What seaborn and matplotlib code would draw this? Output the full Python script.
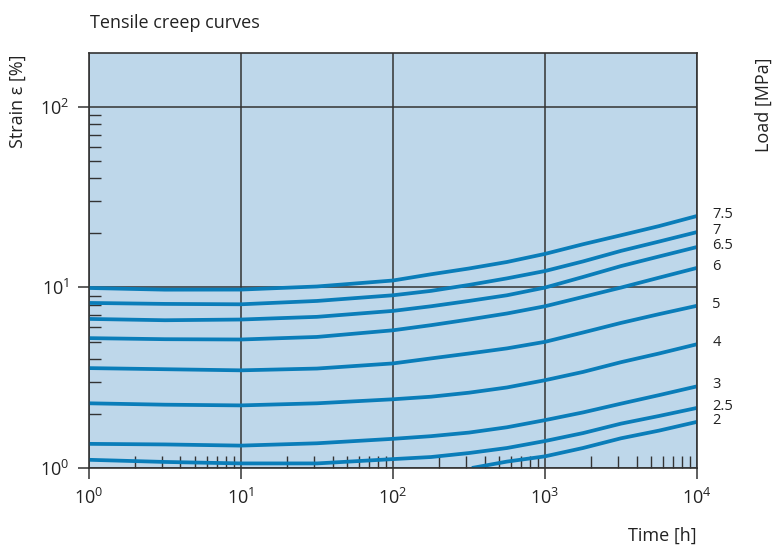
import numpy as np
import pandas as pd
import matplotlib
matplotlib.use("Agg")
import matplotlib.pyplot as plt
import seaborn as sns
from matplotlib.ticker import LogLocator, LogFormatterSciNotation, NullFormatter

# ---- data ----
time_h = [1, 3.16, 10, 31.6, 100, 178, 316, 562, 1000, 1778, 3162, 5623, 10000]
load_labels = ["7.5", "7", "6.5", "6", "5", "4", "3", "2.5", "2"]
strain_7_5 = [9.91, 9.70, 9.71, 10.1, 10.9, 11.8, 12.7, 13.8, 15.3, 17.3, 19.4, 21.8, 24.8]
strain_7 = [8.19, 8.09, 8.05, 8.40, 9.03, 9.55, 10.3, 11.2, 12.3, 13.9, 15.9, 17.9, 20.2]
strain_6_5 = [6.68, 6.57, 6.63, 6.86, 7.40, 7.85, 8.40, 9.03, 9.96, 11.4, 13.1, 14.8, 16.7]
strain_6 = [5.23, 5.16, 5.14, 5.31, 5.78, 6.17, 6.63, 7.16, 7.85, 8.84, 9.96, 11.3, 12.8]
strain_5 = [3.57, 3.52, 3.47, 3.55, 3.79, 4.04, 4.30, 4.59, 4.99, 5.62, 6.35, 7.10, 7.90]
strain_4 = [2.28, 2.24, 2.22, 2.28, 2.40, 2.48, 2.61, 2.79, 3.06, 3.40, 3.85, 4.30, 4.84]
strain_3 = [1.36, 1.35, 1.33, 1.37, 1.45, 1.50, 1.57, 1.68, 1.84, 2.03, 2.27, 2.53, 2.83]
strain_2_5 = [1.11, 1.08, 1.06, 1.06, 1.12, 1.15, 1.21, 1.29, 1.41, 1.56, 1.76, 1.94, 2.15]
time_2 = [330, 562, 1000, 1778, 3162, 5623, 10000]
strain_2 = [1.00, 1.085, 1.16, 1.29, 1.46, 1.61, 1.80]

series = [
    ("7.5", time_h, strain_7_5),
    ("7", time_h, strain_7),
    ("6.5", time_h, strain_6_5),
    ("6", time_h, strain_6),
    ("5", time_h, strain_5),
    ("4", time_h, strain_4),
    ("3", time_h, strain_3),
    ("2.5", time_h, strain_2_5),
    ("2", time_2, strain_2),
]

rows = []
for lab, xs, ys in series:
    for x, y in zip(xs, ys):
        rows.append({"load": lab, "time": x, "strain": y})
df = pd.DataFrame(rows)

# ---- style ----
sns.set_theme(style="ticks")
plt.rcParams["font.family"] = ["Open Sans", "DejaVu Sans"]
plt.rcParams["mathtext.default"] = "regular"

line_color = "#0a7db9"
bg_color = "#bed7ea"
dark = "#333333"

fig = plt.figure(figsize=(7.75, 5.48), dpi=100)
ax = fig.add_axes([0.1148, 0.146, 0.7846, 0.7567])
ax.set_facecolor(bg_color)

sns.lineplot(data=df, x="time", y="strain", units="load", estimator=None,
             color=line_color, linewidth=2.7, ax=ax, legend=False, sort=True)
for ln in ax.get_lines():
    ln.set_solid_capstyle("butt")
    ln.set_solid_joinstyle("round")

ax.set_xscale("log")
ax.set_yscale("log")
ax.set_xlim(1, 10000)
ax.set_ylim(1, 197)

ax.xaxis.set_major_locator(LogLocator(base=10, numticks=10))
ax.yaxis.set_major_locator(LogLocator(base=10, numticks=10))
ax.xaxis.set_major_formatter(LogFormatterSciNotation())
ax.yaxis.set_major_formatter(LogFormatterSciNotation())
ax.xaxis.set_minor_locator(LogLocator(base=10, subs=np.arange(2, 10), numticks=20))
ax.yaxis.set_minor_locator(LogLocator(base=10, subs=np.arange(2, 10), numticks=20))
ax.xaxis.set_minor_formatter(NullFormatter())
ax.yaxis.set_minor_formatter(NullFormatter())

ax.grid(which="major", color=dark, linewidth=1.1)
ax.set_axisbelow(True)
for s in ax.spines.values():
    s.set_color(dark)
    s.set_linewidth(1.2)

ax.tick_params(which="major", direction="out", length=8, width=1.1,
               color=dark, labelsize=13, pad=6, labelcolor="#222222")
ax.tick_params(which="minor", direction="in", length=8.5, width=1.0, color=dark)
ax.tick_params(top=False, right=False, which="both")

ax.set_xlabel("")
ax.set_ylabel("")

# curve labels at right end
for lab, xs, ys in series:
    ax.annotate(lab, xy=(xs[-1], ys[-1]), xytext=(11, 1),
                textcoords="offset points", ha="left", va="center",
                fontsize=10.5, color="#222222", annotation_clip=False)

fig.text(0.116, 0.958, "Tensile creep curves", ha="left", va="center",
         fontsize=13, color="#222222")
fig.text(0.023, 0.815, "Strain ε [%]", rotation=90, ha="center", va="center",
         fontsize=13, color="#222222")
fig.text(0.985, 0.808, "Load [MPa]", rotation=90, ha="center", va="center",
         fontsize=13, color="#222222")
fig.text(0.899, 0.022, "Time [h]", ha="right", va="center",
         fontsize=13, color="#222222")

fig.savefig("out.png", dpi=100)
